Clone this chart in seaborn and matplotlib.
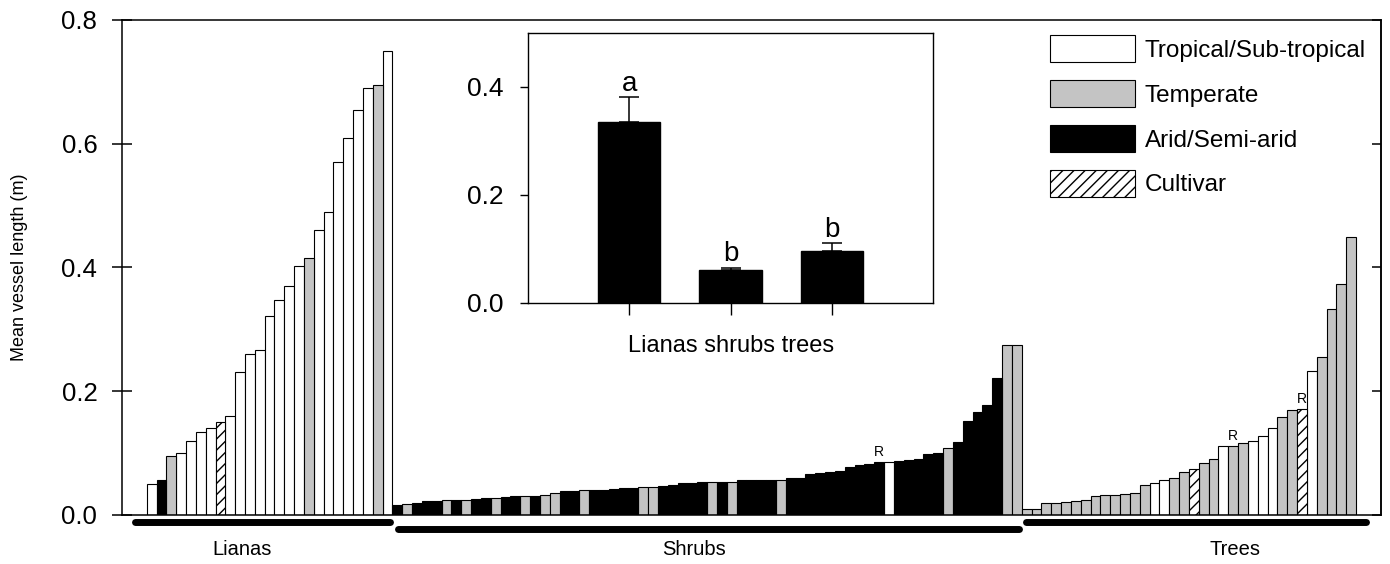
import numpy as np
import pandas as pd
import matplotlib
matplotlib.use("Agg")
import matplotlib.pyplot as plt
import matplotlib.transforms as mtransforms
from matplotlib.patches import Patch
import seaborn as sns

# ---------------- data ----------------
# climate codes: T = Tropical/Sub-tropical, M = Temperate, A = Arid/Semi-arid, C = Cultivar
liana_values = [0.050, 0.057, 0.096, 0.100, 0.120, 0.134, 0.141, 0.150, 0.160, 0.231,
                0.261, 0.267, 0.322, 0.348, 0.370, 0.402, 0.415, 0.460, 0.490, 0.570,
                0.610, 0.654, 0.690, 0.695, 0.750]
liana_climate = list("TAMTTTTCTTTTTTTTMTTTTTTMT")

shrub_values = [0.016, 0.017, 0.019, 0.022, 0.023, 0.024, 0.025, 0.025, 0.026, 0.027,
                0.027, 0.029, 0.030, 0.031, 0.031, 0.032, 0.036, 0.039, 0.039, 0.040,
                0.041, 0.041, 0.042, 0.043, 0.044, 0.045, 0.045, 0.047, 0.049, 0.051,
                0.052, 0.053, 0.053, 0.054, 0.054, 0.056, 0.056, 0.057, 0.057, 0.057,
                0.059, 0.059, 0.067, 0.068, 0.069, 0.071, 0.078, 0.080, 0.083, 0.086,
                0.086, 0.087, 0.089, 0.091, 0.099, 0.101, 0.108, 0.118, 0.152, 0.166,
                0.178, 0.222, 0.274, 0.274]
shrub_climate = list("AMAAAMAMAAMAAMAMMAAMAAAAAMMAAAAAMAMAAAAMAAAAAAAAAATAAAAAMAAAAAMM")

tree_values = [0.010, 0.010, 0.019, 0.019, 0.021, 0.023, 0.025, 0.030, 0.032, 0.032,
               0.034, 0.035, 0.048, 0.051, 0.057, 0.060, 0.069, 0.075, 0.084, 0.091,
               0.111, 0.112, 0.116, 0.120, 0.128, 0.140, 0.159, 0.170, 0.172, 0.232,
               0.255, 0.333, 0.373, 0.449]
tree_climate = list("MMMMMMMMMMMMMTTMMCMMTMMTTTMMCTMMMM")

# bars flagged with "R" (group, position within group)
r_flags = [("Shrubs", 49), ("Trees", 21), ("Trees", 28)]

group_names = ["Lianas", "Shrubs", "Trees"]
climate_names = {"T": "Tropical/Sub-tropical", "M": "Temperate",
                 "A": "Arid/Semi-arid", "C": "Cultivar"}
climate_order = ["Tropical/Sub-tropical", "Temperate", "Arid/Semi-arid", "Cultivar"]

inset_groups = ["Lianas", "shrubs", "trees"]
inset_means = [0.336, 0.061, 0.097]
inset_se = [0.045, 0.004, 0.014]
inset_letters = ["a", "b", "b"]

# ---------------- styling ----------------
sns.set_style("ticks")
plt.rcParams["font.family"] = ["Liberation Sans", "DejaVu Sans"]
plt.rcParams["axes.edgecolor"] = "black"
plt.rcParams["xtick.color"] = "black"
plt.rcParams["ytick.color"] = "black"
plt.rcParams["text.color"] = "black"
plt.rcParams["axes.labelcolor"] = "black"
plt.rcParams["hatch.linewidth"] = 1.0

palette = {"Tropical/Sub-tropical": "#ffffff", "Temperate": "#c4c4c4",
           "Arid/Semi-arid": "#000000", "Cultivar": "#ffffff"}
hatches = {"Tropical/Sub-tropical": "", "Temperate": "",
           "Arid/Semi-arid": "", "Cultivar": "///"}

# ---------------- build frame ----------------
vals = liana_values + shrub_values + tree_values
clim = [climate_names[c] for c in liana_climate + shrub_climate + tree_climate]
grp = (["Lianas"] * len(liana_values) + ["Shrubs"] * len(shrub_values)
       + ["Trees"] * len(tree_values))
df = pd.DataFrame({"idx": np.arange(len(vals)), "value": vals,
                   "climate": clim, "group": grp})
n = len(df)

fig = plt.figure(figsize=(13.9, 5.64), dpi=100)
ax = fig.add_axes([0.08777, 0.08688, 0.90576, 0.87766])

sns.barplot(data=df, x="idx", y="value", hue="climate", hue_order=climate_order,
            palette=palette, order=list(range(n)), dodge=False, width=1.0,
            saturation=1, edgecolor="black", linewidth=0.8, legend=False, ax=ax)

for p in ax.patches:
    i = int(round(p.get_x() + p.get_width() / 2))
    if 0 <= i < n and df.loc[i, "climate"] == "Cultivar":
        p.set_hatch("///")

ax.set_xlim(-3.01, n + 2.04)
ax.set_ylim(0, 0.8)
ax.set_xticks([])
ax.set_xlabel("")
yt = [0.0, 0.2, 0.4, 0.6, 0.8]
ax.set_yticks(yt)
ax.set_yticklabels([f"{v:.1f}" for v in yt])
ax.tick_params(axis="y", direction="inout", length=13.7, width=1.1,
               labelsize=18.5, pad=10.9)
for s in ax.spines.values():
    s.set_linewidth(1.1)
    s.set_color("black")
ax.set_ylabel("Mean vessel length (m)", fontsize=13)
ax.yaxis.set_label_coords(-0.0747, 0.5)

sec = ax.secondary_yaxis("right")
sec.set_yticks(yt)
sec.tick_params(direction="in", length=6.5, width=1.1, labelright=False)
sec.spines["right"].set_linewidth(1.1)

# R flags
offsets = {"Lianas": 0, "Shrubs": len(liana_values),
           "Trees": len(liana_values) + len(shrub_values)}
for g, k in r_flags:
    i = offsets[g] + k
    ax.text(i, df.loc[i, "value"] + 0.004, "R", ha="center", va="bottom",
            fontsize=10)

# group underline bars and names
trans = mtransforms.blended_transform_factory(ax.transData, ax.transAxes)
line_spec = {"Lianas": (-1.2, -0.3, -0.0141, 9.2),
             "Shrubs": (0.6, -0.25, -0.0283, 55.2),
             "Trees": (0.45, 1.0, -0.0141, 110.2)}
for g in group_names:
    sub = df[df["group"] == g]
    lo, hi = sub["idx"].min() - 0.5, sub["idx"].max() + 0.5
    a, b, yy, xt = line_spec[g]
    ax.plot([lo + a, hi + b], [yy, yy], transform=trans, color="black", lw=5,
            solid_capstyle="round", clip_on=False)
    ax.text(xt, -0.0687, g, transform=trans, ha="center", va="center",
            fontsize=14.5)

# legend
handles = [Patch(facecolor=palette[c], edgecolor="black", hatch=hatches[c],
                 linewidth=0.8, label=c) for c in climate_order]
ax.legend(handles=handles, loc="upper left", frameon=False,
          bbox_to_anchor=(1050 / 1390, 1 - 35 / 564), bbox_transform=fig.transFigure,
          borderpad=0, borderaxespad=0, fontsize=17.5, handlelength=3.5,
          handleheight=1.33, labelspacing=0.74, handletextpad=0.4)

# ---------------- inset ----------------
ax_in = fig.add_axes([0.3799, 0.4628, 0.2914, 0.4787])
ax_in.set_facecolor("white")
sns.barplot(x=inset_groups, y=inset_means, color="black", width=0.615,
            saturation=1, edgecolor="black", ax=ax_in)
ax_in.errorbar(range(len(inset_means)), inset_means,
               yerr=[np.zeros(len(inset_se)), inset_se], fmt="none",
               ecolor="black", elinewidth=1.1, capsize=6.9, capthick=1.1, zorder=5)
for i, (m, s, l) in enumerate(zip(inset_means, inset_se, inset_letters)):
    ax_in.text(i, m + s + 0.012, l, ha="center", va="baseline", fontsize=20)
ax_in.set_xlim(-1, 3)
ax_in.set_ylim(0, 0.5)
ax_in.set_yticks([0.0, 0.2, 0.4])
ax_in.set_yticklabels(["0.0", "0.2", "0.4"])
ax_in.tick_params(axis="y", direction="out", length=5.8, width=1.0, labelsize=19,
                  pad=12)
ax_in.tick_params(axis="x", direction="out", length=8.5, width=1.0,
                  labelbottom=False)
ax_in.set_xlabel("Lianas shrubs trees", fontsize=17, labelpad=14.5)
ax_in.set_ylabel("")
for s in ax_in.spines.values():
    s.set_visible(True)
    s.set_linewidth(1.0)
    s.set_color("black")

fig.savefig("out.png", dpi=100)
